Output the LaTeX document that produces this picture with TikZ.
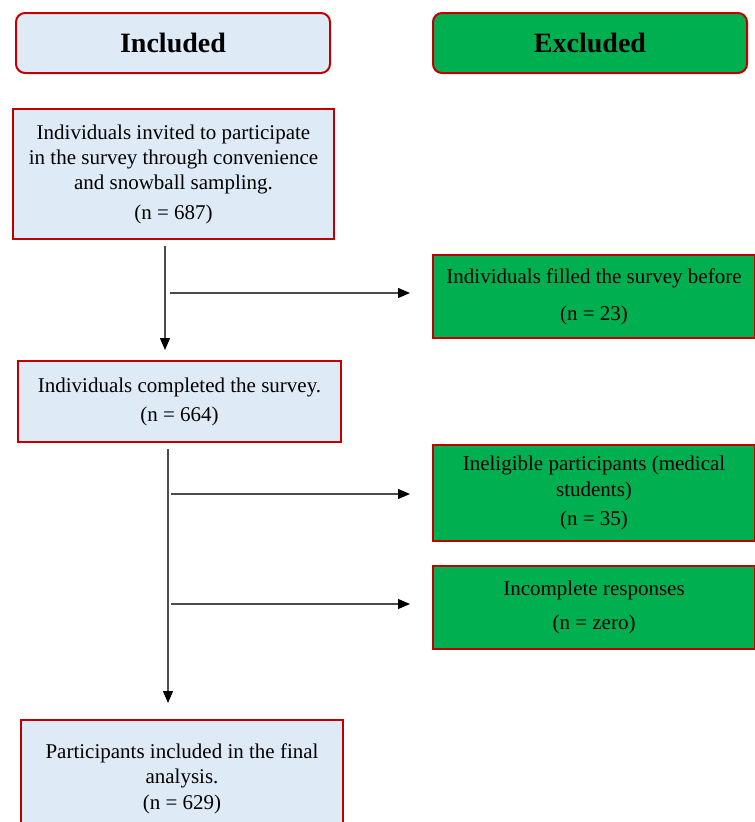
\documentclass[tikz,border=0pt]{standalone}
\usepackage{fontspec}
\setmainfont{Liberation Serif}
\usetikzlibrary{arrows.meta,positioning}
\definecolor{boxred}{RGB}{192,0,0}
\definecolor{inblue}{RGB}{222,235,247}
\definecolor{exgreen}{RGB}{0,176,80}
\tikzset{
    inbox/.style={draw=boxred, fill=inblue, line width=2pt, align=center, anchor=north west, inner sep=0pt, font=\fontsize{21}{25}\selectfont},
    exbox/.style={inbox, fill=exgreen},
    head/.style={rounded corners=9pt, minimum width=314pt, minimum height=60pt, font=\bfseries\fontsize{28}{30}\selectfont},
    flow/.style={draw=black!70, line width=1.2pt, -{Triangle[length=12pt,width=10pt,color=black]}}
}

\begin{document}
\begin{tikzpicture}[x=1pt, y=-1pt]
                        \useasboundingbox (0,0) rectangle (755,822);
                        \node[inbox, head] (included) at (15,12) {Included};
                        \node[exbox, head] (excluded) at (432,12) {Excluded};
                        \node[inbox, minimum width=321pt, minimum height=130pt] (invited) at (12,108)
                            {Individuals invited to participate\\ in the survey through convenience\\ and snowball sampling.\\[5pt] (n = 687)};
                        \node[inbox, minimum width=323pt, minimum height=81pt] (completed) at (17,360)
                            {Individuals completed the survey.\\[4pt] (n = 664)};
                        \node[inbox, minimum width=322pt, minimum height=118pt] (final) at (20,719)
                            {Participants included in the final\\ analysis.\\[1pt] (n = 629)};
                        \node[exbox, minimum width=322pt, minimum height=83pt] (before) at (432,254)
                            {Individuals filled the survey before\\[12pt] (n = 23)};
                        \node[exbox, minimum width=322pt, minimum height=96pt] (ineligible) at (432,444)
                            {Ineligible participants (medical\\[1pt] students)\\[4pt] (n = 35)};
                        \node[exbox, minimum width=322pt, minimum height=83pt] (incomplete) at (432,565)
                            {Incomplete responses\\[9pt] (n = zero)};
                        \coordinate (down1) at (165,246);
                        \coordinate (down1end) at (165,350);
                        \coordinate (down2) at (168,449);
                        \coordinate (down2end) at (168,703);
                        \coordinate (out1) at (170,293);
                        \coordinate (out2) at (171,494);
                        \coordinate (out3) at (171,604);
                        \draw[flow] (down1) -- (down1end);
                        \draw[flow] (down2) -- (down2end);
                        \draw[flow, shorten >=22pt] (out1) -- (out1 -| before.west);
                        \draw[flow, shorten >=22pt] (out2) -- (out2 -| ineligible.west);
                        \draw[flow, shorten >=22pt] (out3) -- (out3 -| incomplete.west);
                    \end{tikzpicture}
\end{document}
